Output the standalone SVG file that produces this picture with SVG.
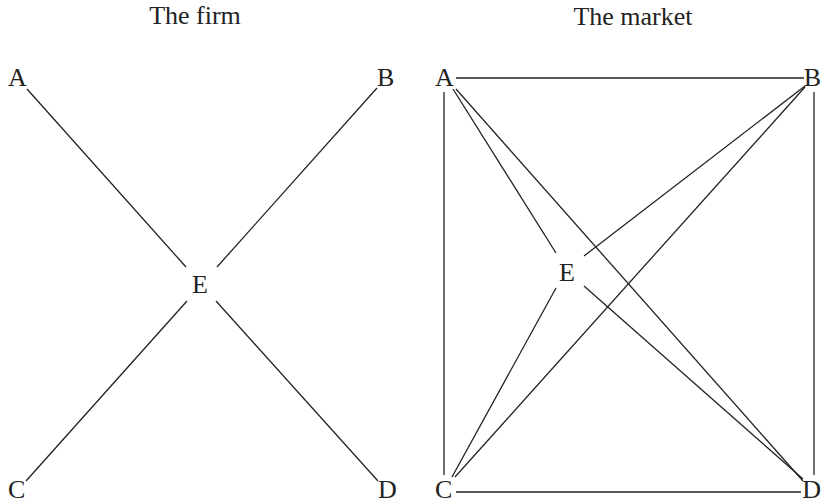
<svg xmlns="http://www.w3.org/2000/svg" width="822" height="503" viewBox="0 0 822 503">
<style>
text{font-family:"Liberation Serif","Times New Roman",serif;font-size:26px;fill:#222}
.t{text-anchor:middle}
.e{text-anchor:end}
line{stroke:#222;stroke-width:1.3;fill:none}
</style>
<rect width="822" height="503" fill="#fff"/>
<g id="firm-title"><text class="t" x="195" y="24">The firm</text></g>
<g id="market-title"><text class="t" x="633" y="25">The market</text></g>
<g id="firm-A"><text x="8" y="86">A</text></g>
<g id="firm-B"><text x="377" y="86">B</text></g>
<g id="firm-C"><text x="8" y="498">C</text></g>
<g id="firm-D"><text x="378" y="498">D</text></g>
<g id="firm-E"><text class="t" x="200" y="293">E</text></g>
<g id="market-A"><text x="435" y="86">A</text></g>
<g id="market-B"><text class="e" x="821" y="86">B</text></g>
<g id="market-C"><text x="435" y="498">C</text></g>
<g id="market-D"><text class="e" x="821" y="498">D</text></g>
<g id="market-E"><text class="t" x="567" y="281">E</text></g>
<g id="connectors">
<line x1="27" y1="89" x2="186" y2="267"/>
<line x1="377" y1="88" x2="217" y2="267"/>
<line x1="187" y1="301" x2="26" y2="481"/>
<line x1="216" y1="301" x2="378" y2="481"/>
<line x1="456" y1="78" x2="804" y2="78"/>
<line x1="456" y1="492" x2="801" y2="492"/>
<line x1="444" y1="92" x2="444" y2="475"/>
<line x1="814" y1="92" x2="814" y2="475"/>
<line x1="453" y1="89" x2="556" y2="253"/>
<line x1="456" y1="89" x2="803" y2="481"/>
<line x1="805" y1="86" x2="584" y2="256"/>
<line x1="805" y1="87" x2="455" y2="477"/>
<line x1="452" y1="477" x2="556" y2="288"/>
<line x1="584" y1="286" x2="803" y2="479"/>
</g>
</svg>
